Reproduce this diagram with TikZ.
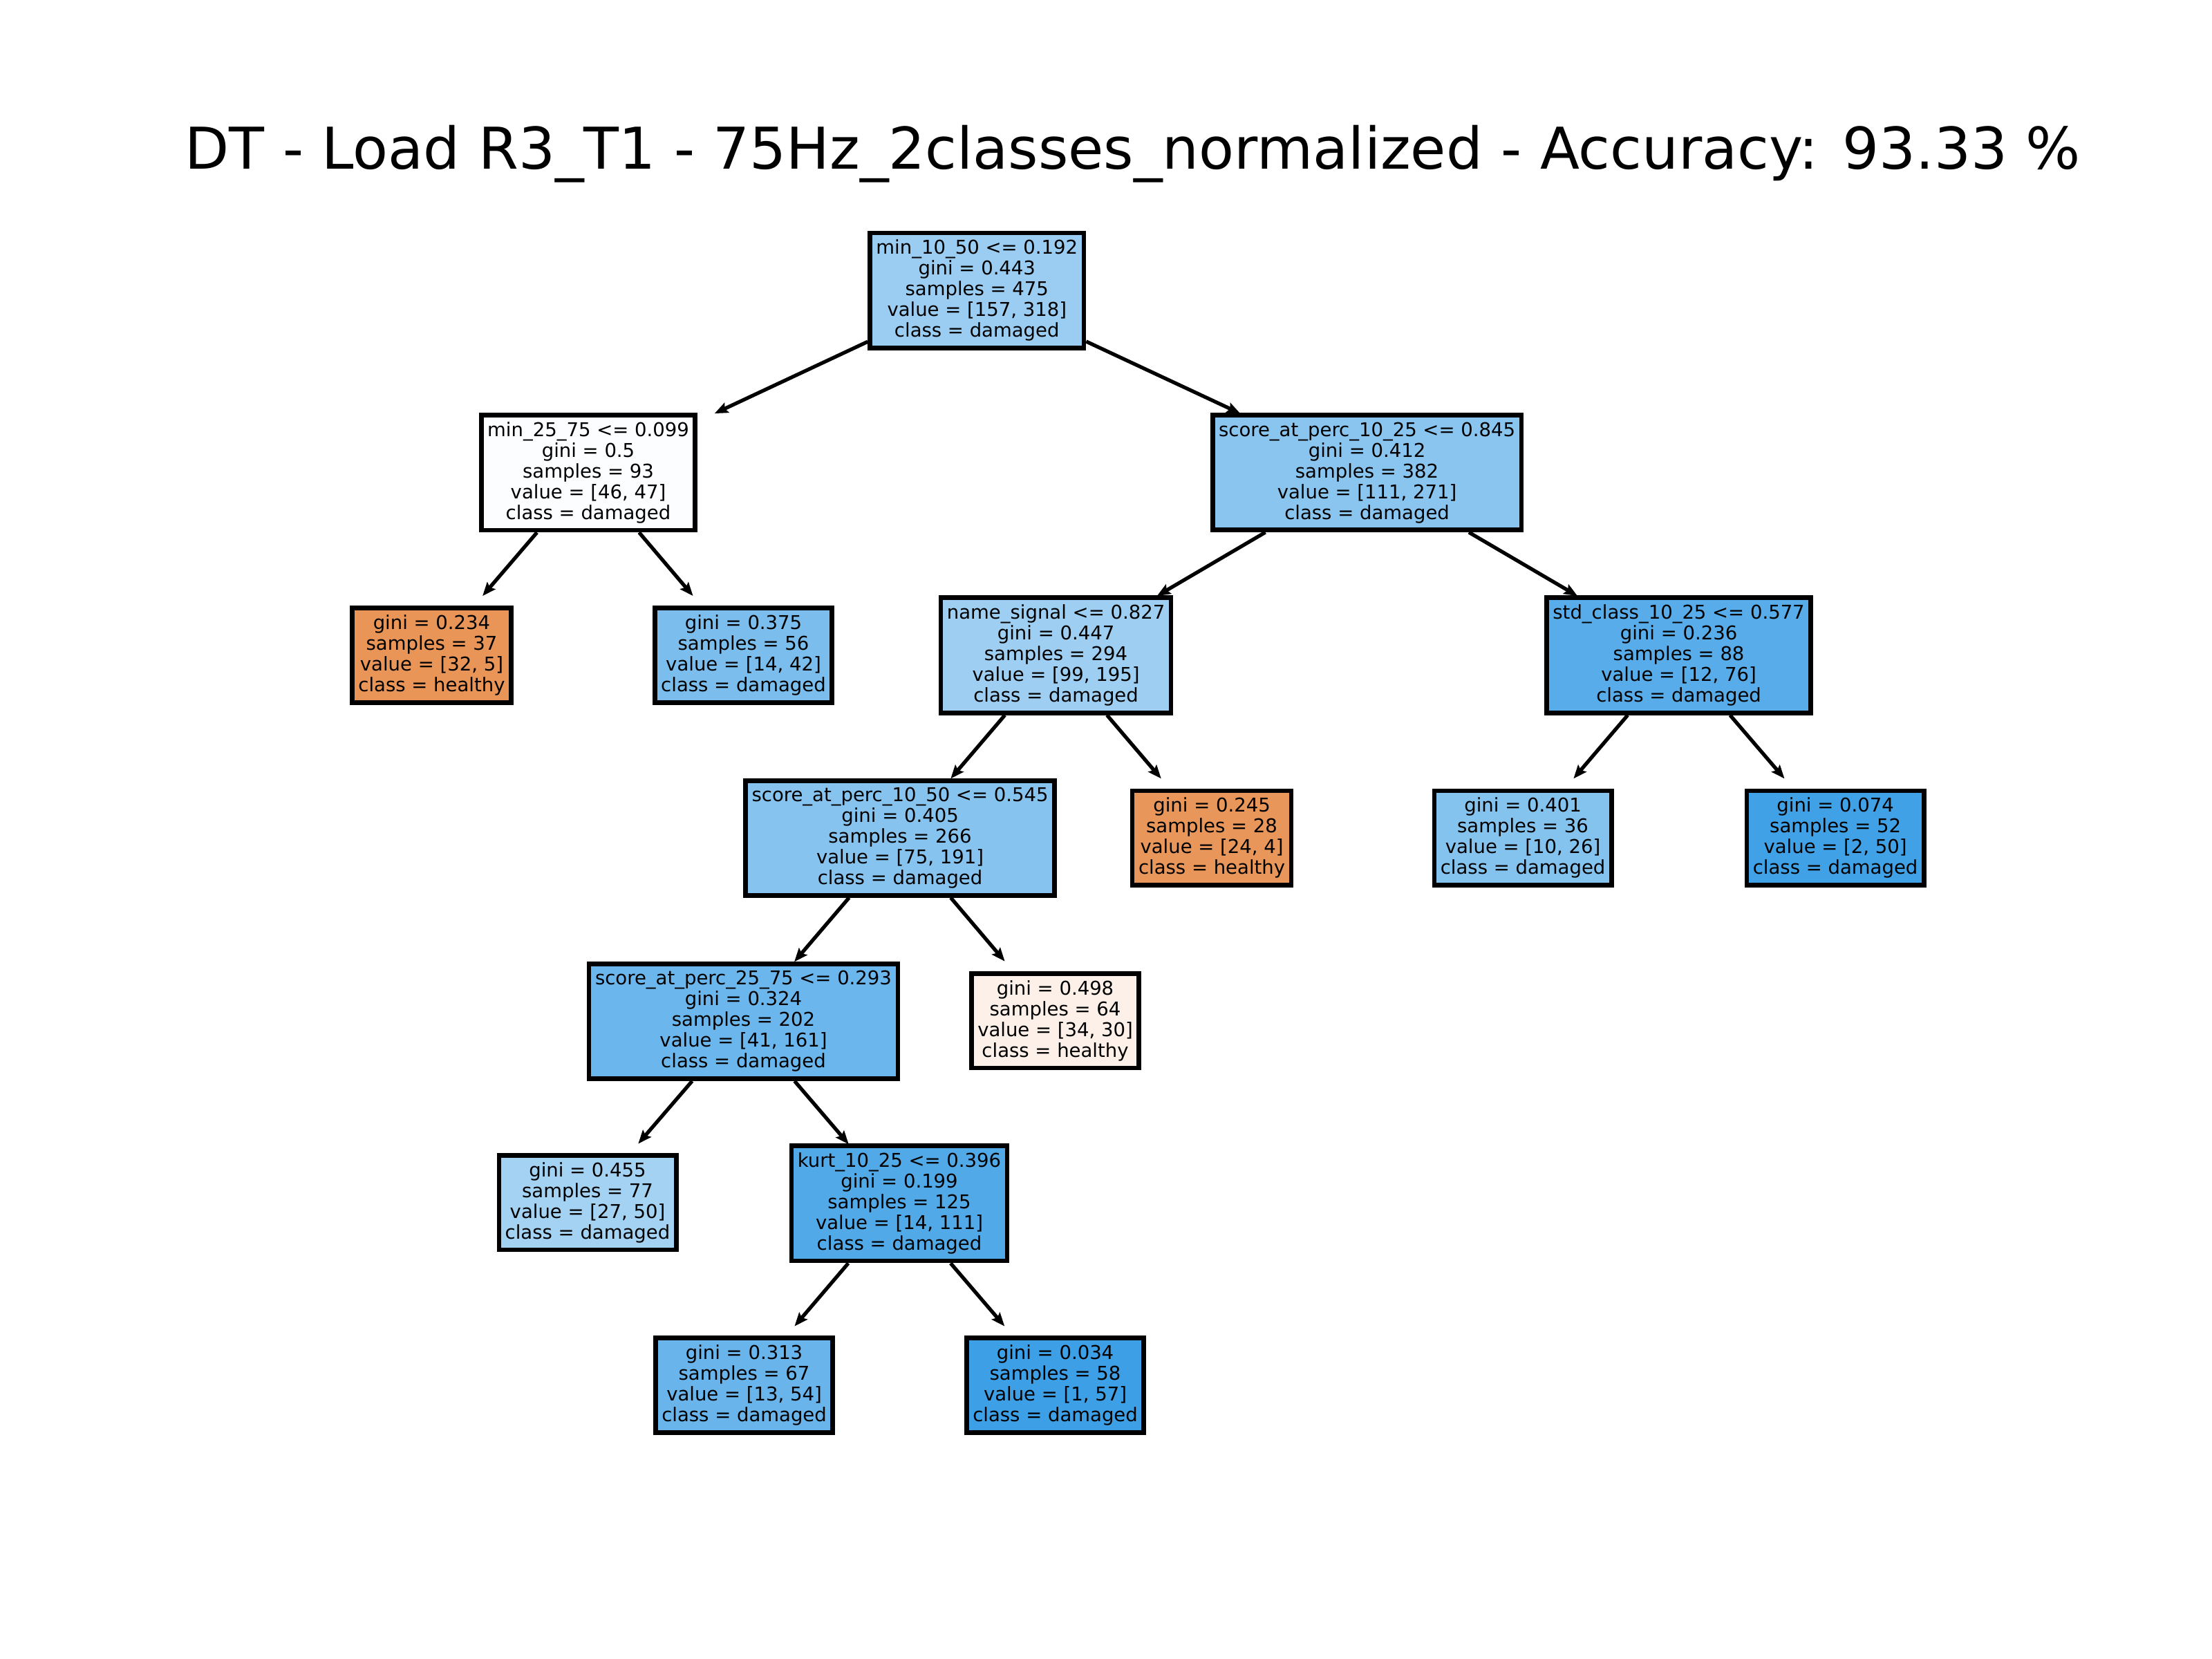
\documentclass[tikz,border=0pt]{standalone}
\usepackage{fontspec}
\setmainfont{DejaVu Sans}
\usetikzlibrary{arrows.meta,calc}
\definecolor{cRoot}{RGB}{155,205,242}
\definecolor{cA}{RGB}{251,253,254}
\definecolor{cB}{RGB}{138,197,240}
\definecolor{cAL}{RGB}{233,149,88}
\definecolor{cAR}{RGB}{123,190,238}
\definecolor{cBL}{RGB}{158,207,242}
\definecolor{cBR}{RGB}{88,172,233}
\definecolor{cC}{RGB}{135,195,239}
\definecolor{cCR}{RGB}{233,150,90}
\definecolor{cDL}{RGB}{133,195,239}
\definecolor{cDR}{RGB}{65,161,230}
\definecolor{cE}{RGB}{107,182,236}
\definecolor{cER}{RGB}{252,240,232}
\definecolor{cFL}{RGB}{164,210,243}
\definecolor{cF}{RGB}{82,169,232}
\definecolor{cGL}{RGB}{105,181,235}
\definecolor{cGR}{RGB}{61,159,230}
\tikzset{
  treenode/.style={draw=black, line width=2.4pt, rectangle, align=center,
    inner xsep=3.2pt, inner ysep=3.6pt,
    font=\fontsize{9.9}{10.8}\selectfont},
  arr/.style={draw=black, line width=1.9pt,
    -{Stealth[length=7pt,width=5.6pt,inset=1.2pt]}},
}
\begin{document}
\begin{tikzpicture}[x=0.7347pt,y=-0.7347pt]
\useasboundingbox (0,0) rectangle (1568,1176);
\node[anchor=base, font=\fontsize{30}{34}\selectfont] (title) at (803,120)
  {DT - Load R3\_T1 - 75Hz\_2classes\_normalized - Accuracy: 93.33 \%};

\node[treenode, fill=cRoot] (root) at (692.5,206)
  {min\_10\_50 <= 0.192\\gini = 0.443\\samples = 475\\value = [157, 318]\\class = damaged};
\node[treenode, fill=cA] (a) at (417,335)
  {min\_25\_75 <= 0.099\\gini = 0.5\\samples = 93\\value = [46, 47]\\class = damaged};
\node[treenode, fill=cB] (b) at (969,335)
  {score\_at\_perc\_10\_25 <= 0.845\\gini = 0.412\\samples = 382\\value = [111, 271]\\class = damaged};
\node[treenode, fill=cAL] (al) at (306,464.5)
  {gini = 0.234\\samples = 37\\value = [32, 5]\\class = healthy};
\node[treenode, fill=cAR] (ar) at (527,464.5)
  {gini = 0.375\\samples = 56\\value = [14, 42]\\class = damaged};
\node[treenode, fill=cBL] (bl) at (748.5,464.5)
  {name\_signal <= 0.827\\gini = 0.447\\samples = 294\\value = [99, 195]\\class = damaged};
\node[treenode, fill=cBR] (br) at (1190,464.5)
  {std\_class\_10\_25 <= 0.577\\gini = 0.236\\samples = 88\\value = [12, 76]\\class = damaged};
\node[treenode, fill=cC] (c) at (638,594)
  {score\_at\_perc\_10\_50 <= 0.545\\gini = 0.405\\samples = 266\\value = [75, 191]\\class = damaged};
\node[treenode, fill=cCR] (cr) at (859,594)
  {gini = 0.245\\samples = 28\\value = [24, 4]\\class = healthy};
\node[treenode, fill=cDL] (dl) at (1079.5,594)
  {gini = 0.401\\samples = 36\\value = [10, 26]\\class = damaged};
\node[treenode, fill=cDR] (dr) at (1301,594)
  {gini = 0.074\\samples = 52\\value = [2, 50]\\class = damaged};
\node[treenode, fill=cE] (e) at (527,724)
  {score\_at\_perc\_25\_75 <= 0.293\\gini = 0.324\\samples = 202\\value = [41, 161]\\class = damaged};
\node[treenode, fill=cER] (er) at (748,723.5)
  {gini = 0.498\\samples = 64\\value = [34, 30]\\class = healthy};
\node[treenode, fill=cFL] (fl) at (416.5,852.5)
  {gini = 0.455\\samples = 77\\value = [27, 50]\\class = damaged};
\node[treenode, fill=cF] (f) at (637.5,853)
  {kurt\_10\_25 <= 0.396\\gini = 0.199\\samples = 125\\value = [14, 111]\\class = damaged};
\node[treenode, fill=cGL] (gl) at (527.5,982)
  {gini = 0.313\\samples = 67\\value = [13, 54]\\class = damaged};
\node[treenode, fill=cGR] (gr) at (748,982)
  {gini = 0.034\\samples = 58\\value = [1, 57]\\class = damaged};

\foreach \p/\q in {root/a, root/b, a/al, a/ar, b/bl, b/br, bl/c, bl/cr,
                   br/dl, br/dr, c/e, c/er, e/fl, e/f, f/gl, f/gr}{
  \draw[arr] (\p) -- ($(\p.center)!0.675!(\q.center)$);
}
\end{tikzpicture}
\end{document}
